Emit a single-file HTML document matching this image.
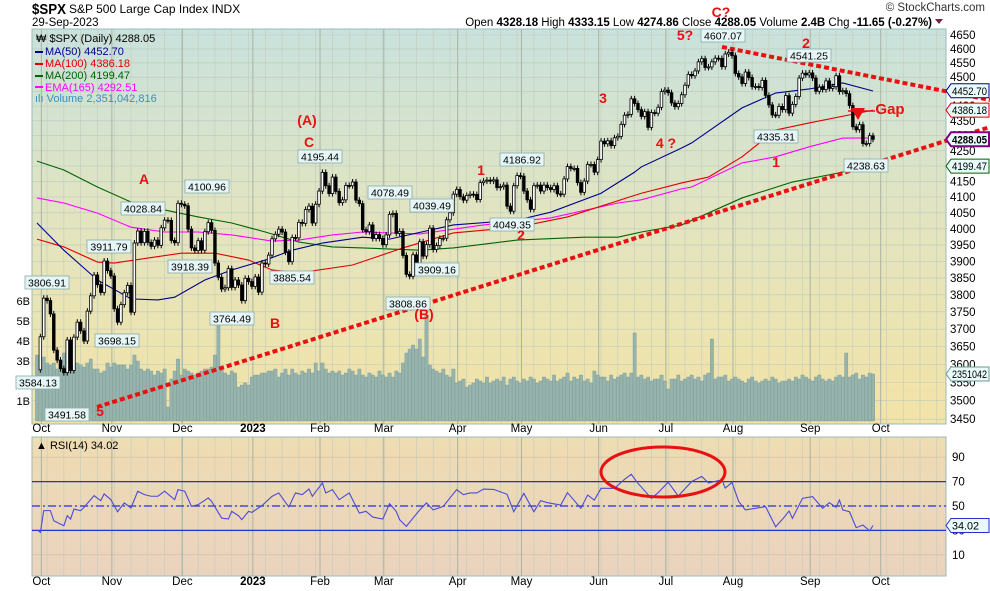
<!DOCTYPE html>
<html><head><meta charset="utf-8"><style>
html,body{margin:0;padding:0;background:#fff;}
body{width:990px;height:591px;overflow:hidden;font-family:"Liberation Sans",sans-serif;}
svg{display:block}
</style></head><body>
<svg id="chart" width="990" height="591" viewBox="0 0 990 591" xmlns="http://www.w3.org/2000/svg" font-family="Liberation Sans, sans-serif">
<defs>
<linearGradient id="gMain" x1="0" y1="0" x2="0" y2="1"><stop offset="0" stop-color="#c9e2dc"/><stop offset="0.5" stop-color="#e3e4bf"/><stop offset="1" stop-color="#f3e3a6"/></linearGradient>
<linearGradient id="gRsi" x1="0" y1="0" x2="0" y2="1"><stop offset="0" stop-color="#eedcb2"/><stop offset="1" stop-color="#ead3bf"/></linearGradient>
</defs>
<text x="32" y="14" font-size="15" font-weight="bold" textLength="34" lengthAdjust="spacingAndGlyphs">$SPX</text>
<text x="69" y="13" font-size="12">S&amp;P 500 Large Cap Index  INDX</text>
<text x="32" y="26" font-size="11.5">29-Sep-2023</text>
<text x="985" y="11" font-size="11.5" text-anchor="end" fill="#333">© StockCharts.com</text>
<text x="932" y="26" font-size="11.5" text-anchor="end"><tspan>Open</tspan> <tspan font-weight="bold">4328.18</tspan> High <tspan font-weight="bold">4333.15</tspan> Low <tspan font-weight="bold">4274.86</tspan> Close <tspan font-weight="bold">4288.05</tspan> Volume <tspan font-weight="bold">2.4B</tspan> Chg <tspan font-weight="bold">-11.65 (-0.27%)</tspan></text>
<polygon points="935,19 943,19 939,24" fill="#802040"/>
<rect x="32" y="29" width="914" height="395" fill="url(#gMain)" stroke="#9bb8b8"/>
<rect x="32" y="437" width="914" height="139" fill="url(#gRsi)" stroke="#9bb8b8"/>
<g id="grid"></g>
<g id="vol"></g>
<g id="mas"></g>
<g id="candles"></g>
<g id="rsi"></g>
<g id="axes"></g>
<g id="annot"></g>
<g font-size="11">
<text x="36" y="42" fill="#000">₩ $SPX (Daily) 4288.05</text>
<line x1="35" y1="52" x2="43" y2="52" stroke="#00008b" stroke-width="2"/><text x="45" y="55" fill="#00008b">MA(50) 4452.70</text>
<line x1="35" y1="64" x2="43" y2="64" stroke="#e00000" stroke-width="2"/><text x="45" y="67" fill="#e00000">MA(100) 4386.18</text>
<line x1="35" y1="76" x2="43" y2="76" stroke="#006400" stroke-width="2"/><text x="45" y="79" fill="#006400">MA(200) 4199.47</text>
<line x1="35" y1="87" x2="43" y2="87" stroke="#ff00ff" stroke-width="2"/><text x="45" y="91" fill="#ff00ff">EMA(165) 4292.51</text>
<text x="35" y="102" fill="#3a8fc0">ılı Volume 2,351,042,816</text>
</g>
<text x="36" y="449" font-size="11">▲ RSI(14) 34.02</text>
</svg>
<script>
const closes=[3585,
3678,3790,3783,3744,3640,3612,3588,3577,3669,3583,3677,3720,3695,3666,3752,3797,3859,3830,3807,3901,3872,
3856,3759,3720,3771,3806,3828,3749,3956,3993,3957,3992,3958,3946,3965,3949,4003,4027,4026,3964,3957,4080,
4077,4072,3999,3941,3933,3963,3934,3991,4019,3995,3895,3852,3817,3821,3878,3822,3844,3829,3783,3849,3839,
3825,3853,3808,3895,3892,3919,3969,3983,3999,3990,3928,3899,3973,3972,4020,4017,4060,4071,4018,4077,
4119,4179,4136,4111,4164,4118,4082,4091,4137,4136,4148,4090,4079,3997,3991,4012,3970,3982,3970,
3951,3981,4045,4048,3986,3992,3918,3861,3855,3920,3891,3960,3916,3951,4002,3936,3948,3970,3971,4028,4050,4109,
4124,4101,4090,4105,4109,4108,4092,4146,4151,4154,4151,4155,4130,4133,4138,4071,4055,4136,4169,
4167,4119,4091,4061,4136,4138,4119,4138,4130,4124,4136,4110,4109,4158,4198,4192,4192,4146,4115,4151,4205,4205,4180,
4221,4282,4273,4283,4267,4293,4298,4338,4369,4372,4425,4409,4388,4365,4381,4328,4378,4376,4396,4450,
4455,4446,4411,4398,4409,4439,4472,4510,4505,4522,4554,4565,4534,4536,4554,4567,4566,4537,4582,4588,
4576,4513,4501,4478,4518,4499,4467,4468,4464,4489,4437,4404,4370,4369,4399,4388,4436,4376,4406,4433,4497,4514,4508,
4515,4497,4451,4465,4457,4487,4461,4467,4505,4450,4453,4443,4402,4330,4320,4337,4274,4274,4300,4288];
const volumes=[3.3,
3.0,3.2,2.9,2.8,2.9,2.6,2.9,3.4,3.3,2.7,2.8,2.9,2.8,2.7,2.9,3.1,2.6,2.6,2.4,2.5,2.9,
2.7,2.9,2.8,2.8,2.8,2.6,2.8,3.3,3.0,2.6,2.5,2.6,2.5,2.3,2.5,2.4,2.6,0.7,2.1,2.5,3.1,
2.3,2.6,2.5,2.4,2.3,2.4,2.5,2.6,2.6,2.7,3.3,4.9,2.6,2.4,2.3,2.5,2.4,1.7,1.8,1.9,1.8,
2.2,2.3,2.3,2.4,2.4,2.5,2.5,2.6,2.2,2.4,2.6,2.3,2.6,2.4,2.3,2.5,2.4,2.6,2.4,2.9,
2.5,2.9,2.6,2.4,2.5,2.4,2.5,2.3,2.4,2.6,2.5,2.3,2.6,2.3,2.2,2.4,2.3,2.2,2.5,
2.3,2.2,2.4,2.2,2.5,2.4,2.9,3.4,3.6,3.8,3.6,4.1,3.2,5.3,2.8,2.6,2.5,2.4,2.6,2.3,2.2,2.6,
1.9,2.0,2.1,1.7,1.8,1.9,2.1,2.0,1.9,2.2,1.9,2.0,2.1,2.0,2.2,1.8,2.1,2.2,2.0,
1.9,2.1,2.0,2.2,2.1,1.9,2.0,2.2,2.1,2.0,2.3,2.0,2.1,2.2,2.4,2.0,2.2,2.1,2.3,2.0,2.1,1.9,2.5,
2.3,2.2,2.2,2.0,2.3,2.1,2.2,2.3,2.4,2.2,2.4,4.4,2.2,2.3,2.1,2.2,2.0,2.1,2.1,2.3,
2.0,1.6,2.1,2.1,2.3,2.0,2.1,2.2,2.3,2.1,2.2,2.0,2.3,2.4,4.1,2.1,2.2,2.2,2.3,2.0,
2.1,2.2,2.1,2.0,1.9,2.1,2.2,2.0,1.9,2.0,2.1,2.0,2.2,2.1,1.9,2.0,2.0,2.1,2.0,2.2,2.1,2.3,2.2,
2.1,2.0,2.2,2.3,2.1,2.0,2.1,2.0,2.2,2.3,2.2,3.4,2.2,2.3,2.4,2.1,2.3,2.2,2.4,2.35];
const ma50Idx=[0,8,18,28,36,41,50,58,68,76,85,97,105,124,143,153,168,178,180,192,195,210,220,230,240,249];
const ma50Val=[4018,3934,3844,3788,3785,3793,3844,3874,3904,3934,3956,3974,3968,4012,4027,4052,4112,4180,4197,4259,4276,4394,4445,4459,4480,4452];
const ma100Idx=[0,8,18,23,33,43,53,63,70,78,94,109,124,143,158,180,192,200,210,220,230,245,249];
const ma100Val=[3968,3944,3898,3895,3910,3925,3925,3904,3874,3865,3889,3941,3987,4005,4037,4112,4145,4164,4230,4319,4343,4377,4386];
const ma200Idx=[0,8,18,28,38,48,58,68,78,88,97,114,124,143,163,173,180,192,210,225,240,249];
const ma200Val=[4216,4187,4132,4084,4059,4037,4018,3990,3959,3944,3941,3934,3941,3965,3974,3974,3990,4012,4097,4148,4180,4199];
const emaIdx=[0,8,18,28,38,48,58,70,78,88,97,114,133,153,173,180,192,195,210,220,230,240,249];
const emaVal=[4097,4081,4049,4005,3990,3990,3981,3962,3965,3981,3990,3984,4012,4034,4081,4091,4126,4132,4210,4230,4263,4292,4292];
const rsiIdx=[0,1,2,4,5,8,9,10,11,13,14,17,19,20,22,24,26,28,30,32,34,36,38,41,42,44,46,48,51,52,55,57,58,60,61,63,64,67,70,72,75,77,79,81,82,85,86,88,90,93,96,98,100,103,105,107,108,110,112,114,116,118,121,123,125,127,129,131,133,136,140,142,145,148,150,152,156,158,162,164,166,168,172,175,177,179,183,185,188,191,195,198,200,204,205,207,209,211,214,217,219,220,222,224,225,228,231,234,236,238,239,240,242,244,246,248,249];
const rsiVal=[30.5,28.4,46.2,46.2,37.9,33.8,42.1,39.3,47.5,46.2,48.9,58.5,54.4,59.9,55.2,45.3,52.5,48.4,62.1,59.3,58,58,62.1,55.2,63.4,62.1,49.7,51.1,56.6,53.8,40.1,39.3,45.6,42.1,38.8,45.6,44.8,50.3,57.9,60.7,49.2,60.7,59.3,63.9,57.9,68.9,60.7,63.4,55.2,60.7,44.2,45.6,40.9,39.3,51.9,45.6,38.8,33.3,40.1,46.8,52.5,46.8,49.7,56.6,63.4,59.3,60.7,60.7,63.9,63.6,59.6,45.3,60.4,45.3,54.4,52.7,50.8,60.9,48.1,59,54.9,64.5,64.5,71.9,76,68.6,56.3,60.9,69.5,58.2,70.1,74.2,68.8,71.5,64.7,69.3,53.7,46.8,48.1,49.5,38.5,33,39,45.9,39.9,56.3,57.7,48.1,52.7,48.9,54.9,46.8,45.3,32.2,34.4,29.7,34.02];
const priceTicks=[3450,3500,3550,3600,3650,3700,3750,3800,3850,3900,3950,4000,4050,4100,4150,4200,4250,4300,4350,4400,4450,4500,4550,4600,4650];
const volTicks=[1,3,4,5,6];
const volTickLabels=["1B","3B","4B","5B","6B"];
const rsiTicks=[10,30,50,70,90];
const monthLabels=["Oct","Nov","Dec","2023","Feb","Mar","Apr","May","Jun","Jul","Aug","Sep","Oct"];
const monthIdx=[1,22,43,64,84,103,125,144,167,187,207,230,251];

const NS="http://www.w3.org/2000/svg";
const X0=37, STEP=(873-37)/249;
function x(i){return X0+i*STEP;}
function yP(p){return 35+1287*Math.log(4650/p);}
function yV(v){return 421-v*20;}
function yR(r){return 506-(r-50)*1.22;}
function mk(tag,attrs,parent){const e=document.createElementNS(NS,tag);for(const k in attrs)e.setAttribute(k,attrs[k]);parent.appendChild(e);return e;}
const G=id=>document.getElementById(id);

const grid=G('grid');
priceTicks.forEach(p=>{const l=mk('line',{x1:32,x2:946,y1:yP(p),y2:yP(p),stroke:'#b9c9bd','stroke-width':0.6},grid);

});
rsiTicks.forEach(r=>{const l=mk('line',{x1:32,x2:946,y1:yR(r),y2:yR(r),stroke:'#cdbb9f','stroke-width':0.6},grid);

});
for(let i=3;i<270;i+=5){const xx=x(i);if(xx>945)break;
 [[29,424],[437,576]].forEach(r=>{const l=mk('line',{x1:xx,x2:xx,y1:r[0],y2:r[1],stroke:'#c2ccbd','stroke-width':0.6},grid);
 
 });}
monthIdx.forEach((m,k)=>{const xx=x(m)+1;
 [[29,424],[437,576]].forEach(r=>{const l=mk('line',{x1:xx,x2:xx,y1:r[0],y2:r[1],stroke:'#a9b3a4','stroke-width':1},grid);
 
 });
 [432,585].forEach(yy=>{const t=mk('text',{x:xx,y:yy,'font-size':11.5,'text-anchor':'middle','font-weight':monthLabels[k]==='2023'?'bold':'normal'},grid);
 t.textContent=monthLabels[k];
 
 });});

const vol=G('vol');
volumes.forEach((v,i)=>{const r=mk('rect',{x:x(i)-1.6,y:yV(v),width:3.3,height:421-yV(v),fill:'#96b4ad',stroke:'#7d9a94','stroke-width':0.4},vol);

});
volTicks.forEach((v,k)=>{const t=mk('text',{x:30,y:yV(v)+4,'font-size':11,'text-anchor':'end'},vol);
t.textContent=volTickLabels[k];

});

const mas=G('mas');
function line(idx,val,color,name){const pts=idx.map((d,k)=>x(d)+','+yP(val[k])).join(' ');
 const p=mk('polyline',{points:pts,fill:'none',stroke:color,'stroke-width':1.1},mas);
 
 }
line(ma200Idx,ma200Val,'#006400','ma200-line');
line(emaIdx,emaVal,'#ff00ff','ema165-line');
line(ma100Idx,ma100Val,'#e00000','ma100-line');
line(ma50Idx,ma50Val,'#00008b','ma50-line');

[[[97,407],[990,127]],[[722,47],[990,100]]].forEach((s,k)=>{const l=mk('line',{x1:s[0][0],y1:s[0][1],x2:s[1][0],y2:s[1][1],stroke:'#e81010','stroke-width':4,'stroke-dasharray':'5,3'},mas);

});

const cg=G('candles');
closes.forEach((c,i)=>{if(i===0)return;const o=closes[i-1];const xx=x(i);
 const yo=yP(o),yc=yP(c);const top=Math.min(yo,yc),bot=Math.max(yo,yc);
 const w=mk('line',{x1:xx,x2:xx,y1:top-3,y2:bot+3,stroke:'#000','stroke-width':1},cg);
 
 
 const b=mk('rect',{x:xx-1.3,y:top,width:2.6,height:Math.max(1,bot-top),fill:c<o?'#000':'#fff',stroke:'#000','stroke-width':0.8},cg);
 
 });

const rg=G('rsi');
[[70,'none'],[30,'none'],[50,'8,3,2,3']].forEach(a=>{const l=mk('line',{x1:32,x2:946,y1:yR(a[0]),y2:yR(a[0]),stroke:'#2430d0','stroke-width':1.2,'stroke-dasharray':a[1]},rg);

});
const rp=mk('polyline',{points:rsiIdx.map((d,k)=>x(d)+','+yR(rsiVal[k])).join(' '),fill:'none',stroke:'#4a4ad8','stroke-width':1.1},rg);


const el=mk('ellipse',{cx:663,cy:472,rx:62,ry:25,fill:'none',stroke:'#e81010','stroke-width':3},rg);



const ax=G('axes');
priceTicks.forEach(p=>{const t=mk('text',{x:950,y:yP(p)+4,'font-size':11.5},ax);
t.textContent=p;

});
rsiTicks.forEach(r=>{const t=mk('text',{x:952,y:yR(r)+4,'font-size':11.5},ax);
t.textContent=r;

});
function tag(val,yy,color,bold,name){const g=mk('g',{},ax);
 
 
 mk('polygon',{points:`946,${yy} 951,${yy-7} 989,${yy-7} 989,${yy+7} 951,${yy+7}`,fill:'#e8fafa',stroke:color,'stroke-width':bold?2:1},g);
 const t=mk('text',{x:952,y:yy+4,'font-size':11,'font-weight':bold?'bold':'normal',textLength:val.length>5?35:27,lengthAdjust:'spacingAndGlyphs'},g);t.textContent=val;}
tag('4452.70',yP(4452.7),'#00008b',false,'ma50-value-tag');
tag('4386.18',yP(4386.18),'#e00000',false,'ma100-value-tag');
tag('4288.05',yP(4288.05),'#800080',true,'close-value-tag');
tag('4199.47',yP(4199.47),'#006400',false,'ma200-value-tag');
tag('2351042',374,'#6a9a94',false,'volume-value-tag');
tag('34.02',yR(34.02),'#2430d0',false,'rsi-value-tag');

const an=G('annot');
const boxes=[["3806.91",47,283],["3911.79",109,247],["4028.84",143,209],["4100.96",207,187],["3918.39",190,267],["3885.54",292,278],["3764.49",232,319],["3698.15",117,341],["3491.58",67,415],["3584.13",38,383],["4195.44",320,157],["4078.49",390,193],["4039.49",432,206],["3909.16",437,270],["3808.86",408,304],["4049.35",512,225],["4186.92",522,160],["4607.07",723,36],["4541.25",809,56],["4335.31",776,137],["4238.63",866,166]];
boxes.forEach(b=>{const g=mk('g',{},an);
 
 
 mk('rect',{x:b[1]-22,y:b[2]-7,width:44,height:13,fill:'#e6f6f6',stroke:'#8aaaaa','stroke-width':0.8},g);
 const t=mk('text',{x:b[1],y:b[2]+3.5,'font-size':10.5,'text-anchor':'middle'},g);t.textContent=b[0];});
const waves=[["A",144,184],["(A)",307,125],["C",309,147],["B",275,328],["5",100,416],["(B)",424,319],["1",481,175],["2",521,240],["3",603,103],["4 ?",666,148],["5?",685,40],["C?",721,17],["2",806,48],["1",776,167],["Gap",890,114]];
waves.forEach(w=>{const t=mk('text',{x:w[1],y:w[2],'font-size':w[0]==='Gap'?15:14,'font-weight':'bold','text-anchor':'middle',fill:'#e81010'},an);
t.textContent=w[0];

});
const gp=mk('polygon',{points:'851,108 865,108 858,120',fill:'#e81010'},an);


const gl=mk('line',{x1:848,y1:111,x2:875,y2:111,stroke:'#e81010','stroke-width':1.5},an);


</script>
</body></html>
